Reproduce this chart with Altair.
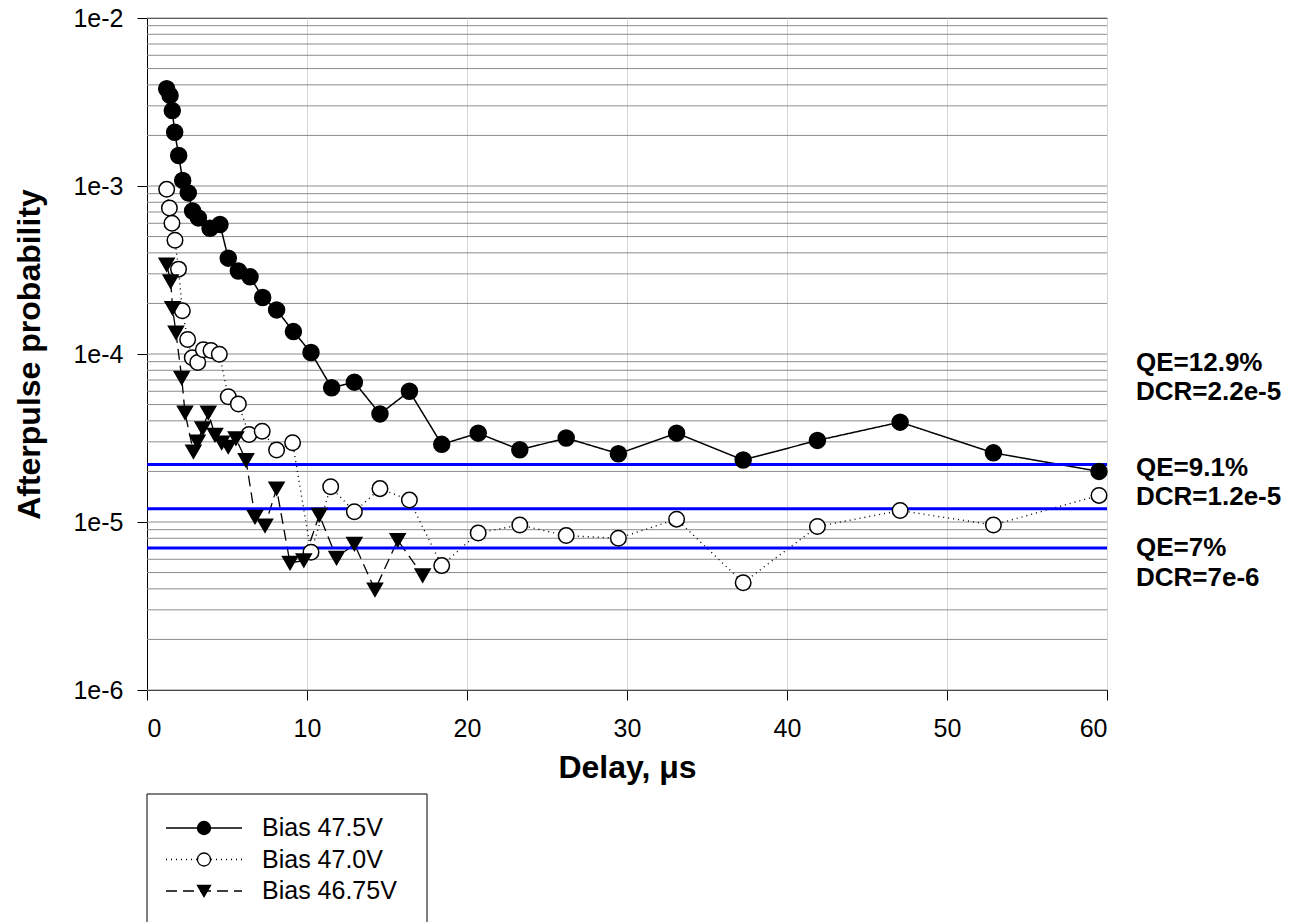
import altair as alt
import pandas as pd

NAMES = ["Bias 47.5V", "Bias 47.0V", "Bias 46.75V"]

S1_X = [1.23, 1.44, 1.58, 1.73, 1.98, 2.23, 2.58, 2.85, 3.21, 3.94, 4.56, 5.08, 5.71, 6.44,
        7.23, 8.1, 9.15, 10.25, 11.54, 12.96, 14.56, 16.4, 18.42, 20.7, 23.3, 26.2, 29.46,
        33.1, 37.26, 41.9, 47.07, 52.9, 59.5]
S1_Y = [3.79e-3, 3.46e-3, 2.81e-3, 2.09e-3, 1.52e-3, 1.08e-3, 9.1e-4, 7.1e-4, 6.46e-4, 5.6e-4,
        5.9e-4, 3.72e-4, 3.12e-4, 2.88e-4, 2.17e-4, 1.83e-4, 1.36e-4, 1.02e-4, 6.3e-5, 6.8e-5,
        4.4e-5, 6.0e-5, 2.9e-5, 3.38e-5, 2.69e-5, 3.16e-5, 2.55e-5, 3.38e-5, 2.34e-5, 3.06e-5,
        3.93e-5, 2.58e-5, 2.0e-5]

S2_X = [1.23, 1.40, 1.56, 1.75, 1.97, 2.21, 2.54, 2.83, 3.17, 3.52, 4.0, 4.52, 5.08, 5.71,
        6.375, 7.2, 8.1, 9.1, 10.25, 11.48, 12.96, 14.56, 16.4, 18.42, 20.7, 23.3, 26.2,
        29.46, 33.1, 37.26, 41.9, 47.07, 52.9, 59.5]
S2_Y = [9.55e-4, 7.4e-4, 6.0e-4, 4.75e-4, 3.2e-4, 1.81e-4, 1.22e-4, 9.5e-5, 8.9e-5, 1.06e-4,
        1.05e-4, 9.96e-5, 5.57e-5, 5.04e-5, 3.32e-5, 3.47e-5, 2.68e-5, 2.96e-5, 6.6e-6, 1.62e-5,
        1.15e-5, 1.58e-5, 1.35e-5, 5.5e-6, 8.6e-6, 9.6e-6, 8.3e-6, 8.0e-6, 1.04e-5, 4.35e-6,
        9.4e-6, 1.17e-5, 9.6e-6, 1.44e-5]

S3_X = [1.23, 1.48, 1.6, 1.81, 2.17, 2.375, 2.9, 3.15, 3.48, 3.83, 4.25, 4.67, 5.08, 5.56,
        6.19, 6.75, 7.375, 8.1, 8.94, 9.8, 10.77, 11.85, 12.96, 14.25, 15.67, 17.23]
S3_Y = [3.4e-4, 2.7e-4, 1.87e-4, 1.34e-4, 7.2e-5, 4.47e-5, 2.62e-5, 3.0e-5, 3.6e-5, 4.47e-5,
        3.29e-5, 2.96e-5, 2.8e-5, 3.14e-5, 2.33e-5, 1.07e-5, 9.5e-6, 1.58e-5, 5.7e-6, 5.9e-6,
        1.1e-5, 6.1e-6, 7.4e-6, 3.95e-6, 7.8e-6, 4.8e-6]

DCR_LEVELS = [2.2e-5, 1.2e-5, 7e-6]
ANNOT = ["QE=12.9%", "DCR=2.2e-5", "QE=9.1%", "DCR=1.2e-5", "QE=7%", "DCR=7e-6"]
X_TICKS = [0, 10, 20, 30, 40, 50, 60]
Y_TICKS = [1e-6, 1e-5, 1e-4, 1e-3, 1e-2]
GRID_Y = [m * 10.0 ** e for e in range(-6, -2) for m in range(1, 10)] + [1e-2]

FONT = "Liberation Sans"
W, H = 960, 672

rows = []
for name, xs, ys in zip(NAMES, [S1_X, S2_X, S3_X], [S1_Y, S2_Y, S3_Y]):
    for x, y in zip(xs, ys):
        rows.append({"series": name, "delay": x, "prob": y})
df = pd.DataFrame(rows)

xscale = alt.Scale(domain=[0, 60], nice=False, zero=False)
yscale = alt.Scale(type="log", domain=[1e-6, 1e-2], nice=False)

xaxis = alt.Axis(values=X_TICKS, grid=True, gridColor="#d6d6d6", gridWidth=1,
                 tickSize=10, tickColor="black", domainColor="black",
                 labelFontSize=25, labelColor="black", labelFont=FONT, labelPadding=16,
                 titleFontSize=32, titleFontWeight="bold", titleColor="black",
                 titleFont=FONT, titlePadding=11, format="d")
yaxis = alt.Axis(values=Y_TICKS, grid=False, tickSize=10, tickColor="black",
                 domainColor="black", labelFontSize=25, labelColor="black", labelFont=FONT,
                 labelPadding=14,
                 labelExpr="'1e-' + toString(round(-log(datum.value) / LN10))",
                 titleFontSize=32, titleFontWeight="bold", titleColor="black",
                 titleFont=FONT, titlePadding=26)

X = alt.X("delay:Q", scale=xscale, axis=xaxis, title="Delay, μs")
Y = alt.Y("prob:Q", scale=yscale, axis=yaxis, title="Afterpulse probability")

dash_scale = alt.Scale(domain=NAMES, range=[[1, 0], [1, 4], [11, 6]])
shape_scale = alt.Scale(domain=NAMES, range=["circle", "circle", "triangle-down"])
fill_scale = alt.Scale(domain=NAMES, range=["#000000", "#ffffff", "#000000"])
size_scale = alt.Scale(domain=NAMES, range=[256, 225, 256])
sw_scale = alt.Scale(domain=NAMES, range=[1.5, 1.3, 1.5])

grid = alt.Chart(pd.DataFrame({"prob": GRID_Y})).mark_rule(
    color="#8c8c8c", strokeWidth=1).encode(y=Y)

lines = alt.Chart(df).mark_line(color="black", strokeCap="butt").encode(
    x=X, y=Y,
    detail="series:N",
    strokeDash=alt.StrokeDash("series:N", scale=dash_scale, legend=None),
    strokeWidth=alt.StrokeWidth("series:N", scale=sw_scale, legend=None),
)

dcr = alt.Chart(pd.DataFrame({"prob": DCR_LEVELS})).mark_rule(
    color="#0000ff", strokeWidth=3).encode(y=Y)

points = alt.Chart(df).mark_point(filled=True, stroke="black", strokeWidth=1.5,
                                  opacity=1).encode(
    x=X, y=Y,
    shape=alt.Shape("series:N", scale=shape_scale, legend=None),
    fill=alt.Fill("series:N", scale=fill_scale, legend=None),
    size=alt.Size("series:N", scale=size_scale, legend=None),
)

ANNOT_Y = [345, 374, 450, 479, 530, 560]
texts = []
for label, ypix in zip(ANNOT, ANNOT_Y):
    texts.append(
        alt.Chart(pd.DataFrame({"t": [label]})).mark_text(
            align="left", baseline="middle", fontSize=26, fontWeight="bold",
            font=FONT, color="black").encode(
            text="t:N", x=alt.value(989), y=alt.value(ypix))
    )

main = alt.layer(grid, lines, dcr, points, *texts).properties(
    width=W, height=H, view=alt.ViewBackground(stroke="#333333", strokeWidth=1))

# legend panel
LW, LH = 280, 128
leg_df = pd.DataFrame({"series": NAMES})
ly = alt.Y("series:N",
           scale=alt.Scale(type="point", domain=NAMES, range=[34, 97], padding=0),
           axis=None)
leg_lines = alt.Chart(leg_df).mark_rule(color="black", strokeCap="butt").encode(
    x=alt.value(19), x2=alt.value(95), y=ly,
    strokeDash=alt.StrokeDash("series:N", scale=dash_scale, legend=None),
    strokeWidth=alt.StrokeWidth("series:N", scale=sw_scale, legend=None),
)
leg_pts = alt.Chart(leg_df).mark_point(filled=True, stroke="black", strokeWidth=1.3,
                                       opacity=1).encode(
    x=alt.value(57), y=ly,
    shape=alt.Shape("series:N", scale=shape_scale, legend=None),
    fill=alt.Fill("series:N", scale=fill_scale, legend=None),
    size=alt.value(170),
)
leg_txt = alt.Chart(leg_df).mark_text(align="left", baseline="middle", fontSize=25,
                                      font=FONT, color="black").encode(
    x=alt.value(115), y=ly, text="series:N")
one = pd.DataFrame({"a": [0]})
box_l = alt.Chart(one).mark_rule(color="black", strokeWidth=1).encode(
    x=alt.value(0), y=alt.value(0), y2=alt.value(LH))
box_r = alt.Chart(one).mark_rule(color="black", strokeWidth=1).encode(
    x=alt.value(LW), y=alt.value(0), y2=alt.value(LH))
box_t = alt.Chart(one).mark_rule(color="black", strokeWidth=1).encode(
    x=alt.value(0), x2=alt.value(LW), y=alt.value(0))

legend = alt.layer(box_l, box_r, box_t, leg_lines, leg_pts, leg_txt).properties(
    width=LW, height=LH, view=alt.ViewBackground(stroke="transparent"))

chart = alt.vconcat(main, legend, spacing=9).properties(
    padding={"left": 13, "top": 5, "right": 0, "bottom": 0},
    background="white",
).configure(font=FONT)

chart.save("out.html", embed_options={"renderer": "svg", "actions": False})
